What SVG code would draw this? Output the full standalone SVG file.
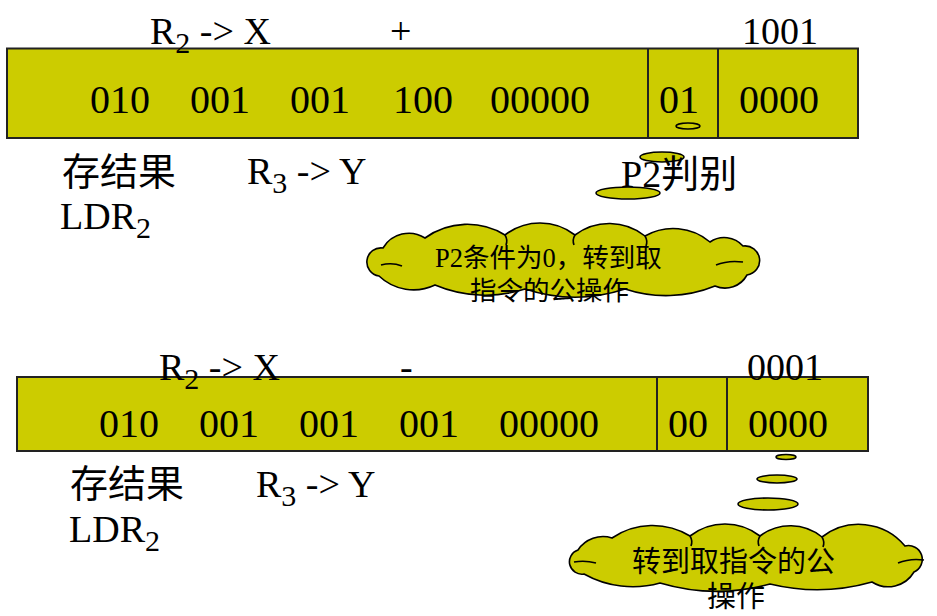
<svg xmlns="http://www.w3.org/2000/svg" width="937" height="616" viewBox="0 0 937 616">
<style>
.bar{fill:#CCCC00;stroke:#222;stroke-width:2}
.div{stroke:#222;stroke-width:2}
.bub{fill:#CCCC00;stroke:#000;stroke-width:1.6}
.cl{fill:#CCCC00;stroke:#000;stroke-width:1.6}
.in{fill:none;stroke:#000;stroke-width:1.6}
.t{font-family:"Liberation Serif","Noto Sans CJK SC",serif;font-size:38px;fill:#000}
.d{font-family:"Liberation Serif",serif;font-size:40px;fill:#000}
.c1{font-family:"Liberation Serif","Noto Sans CJK SC",serif;font-size:26.5px;fill:#000}
.c2{font-family:"Liberation Serif","Noto Sans CJK SC",serif;font-size:29px;fill:#000}
.sub{font-size:30px}
</style>

<g id="instr1">
<rect class="bar" x="7" y="48.5" width="851" height="89.5"/>
<line class="div" x1="648" y1="48.5" x2="648" y2="138"/>
<line class="div" x1="718" y1="48.5" x2="718" y2="138"/>
<text class="d" x="90" y="113">010</text>
<text class="d" x="190" y="113">001</text>
<text class="d" x="290" y="113">001</text>
<text class="d" x="393" y="113">100</text>
<text class="d" x="490" y="113">00000</text>
<text class="d" x="659" y="113">01</text>
<text class="d" x="739" y="113">0000</text>
<text class="t" x="150" y="44">R<tspan class="sub" dy="9">2</tspan><tspan dy="-9"> -&gt; X</tspan></text>
<text class="t" x="390" y="44">+</text>
<text class="t" x="742" y="44">1001</text>
<text class="t" x="62" y="185">存结果</text>
<text class="t" x="60" y="229">LDR<tspan class="sub" dy="9">2</tspan></text>
<text class="t" x="247" y="184">R<tspan class="sub" dy="9">3</tspan><tspan dy="-9"> -&gt; Y</tspan></text>
</g>

<g id="callout1">
<ellipse class="bub" cx="688" cy="126" rx="12" ry="3"/>
<ellipse class="bub" cx="662" cy="157" rx="22" ry="5"/>
<ellipse class="bub" cx="628" cy="193" rx="32" ry="6"/>
<text class="t" x="621" y="187">P2判别</text>
<path class="cl" d="M379,276 A14,14 0 0 1 383,248 A30,30 0 0 1 425,238 A72,72 0 0 1 505,235 A57,57 0 0 1 575,235 A57,57 0 0 1 645,236 A57,57 0 0 1 710,242 A25,25 0 0 1 743,246 A14.6,14.6 0 0 1 747,275 A25,25 0 0 1 715,286 A130,130 0 0 1 625,289 A160,160 0 0 1 525,289 A130,130 0 0 1 435,285 A50,50 0 0 1 379,276 Z"/>
<path class="in" d="M381,265 Q392,262 402,266"/>
<path class="in" d="M505,235 Q508,240 506,245"/>
<path class="in" d="M575,235 Q572,240 574,245"/>
<path class="in" d="M645,236 Q648,241 646,246"/>
<path class="in" d="M743,262 Q728,260 716,265"/>
<text class="c1" x="435" y="267">P2条件为0，转到取</text>
<text class="c1" x="470" y="300">指令的公操作</text>
</g>

<g id="instr2">
<rect class="bar" x="17" y="377" width="851" height="74"/>
<line class="div" x1="657" y1="377" x2="657" y2="451"/>
<line class="div" x1="727" y1="377" x2="727" y2="451"/>
<text class="d" x="99" y="437">010</text>
<text class="d" x="199" y="437">001</text>
<text class="d" x="299" y="437">001</text>
<text class="d" x="399" y="437">001</text>
<text class="d" x="499" y="437">00000</text>
<text class="d" x="668" y="437">00</text>
<text class="d" x="748" y="437">0000</text>
<text class="t" x="159" y="380">R<tspan class="sub" dy="9">2</tspan><tspan dy="-9"> -&gt; X</tspan></text>
<text class="t" x="400" y="380">-</text>
<text class="t" x="747" y="380">0001</text>
<text class="t" x="70" y="497">存结果</text>
<text class="t" x="69" y="542">LDR<tspan class="sub" dy="9">2</tspan></text>
<text class="t" x="256" y="497">R<tspan class="sub" dy="9">3</tspan><tspan dy="-9"> -&gt; Y</tspan></text>
</g>

<g id="callout2">
<ellipse class="bub" cx="786" cy="457" rx="10" ry="2.5"/>
<ellipse class="bub" cx="777" cy="479" rx="20" ry="4"/>
<ellipse class="bub" cx="768" cy="504" rx="30" ry="6"/>
<path class="cl" d="M584,574 A12.4,12.4 0 0 1 578,550 A30,30 0 0 1 612,538 A72,72 0 0 1 690,536 A57,57 0 0 1 760,536 A50,50 0 0 1 822,537 A60,60 0 0 1 905,546 A13.8,13.8 0 0 1 914,572 A30,30 0 0 1 872,582 A200,200 0 0 1 770,584 A200,200 0 0 1 660,583 A100,100 0 0 1 584,574 Z"/>
<path class="in" d="M574,562 Q585,560 596,563"/>
<path class="in" d="M690,536 Q693,541 691,546"/>
<path class="in" d="M760,536 Q757,541 759,546"/>
<path class="in" d="M822,537 Q825,542 823,547"/>
<path class="in" d="M924,560 Q910,558 898,563"/>
<text class="c2" x="632" y="572">转到取指令的公</text>
<text class="c2" x="707" y="607">操作</text>
</g>
</svg>
